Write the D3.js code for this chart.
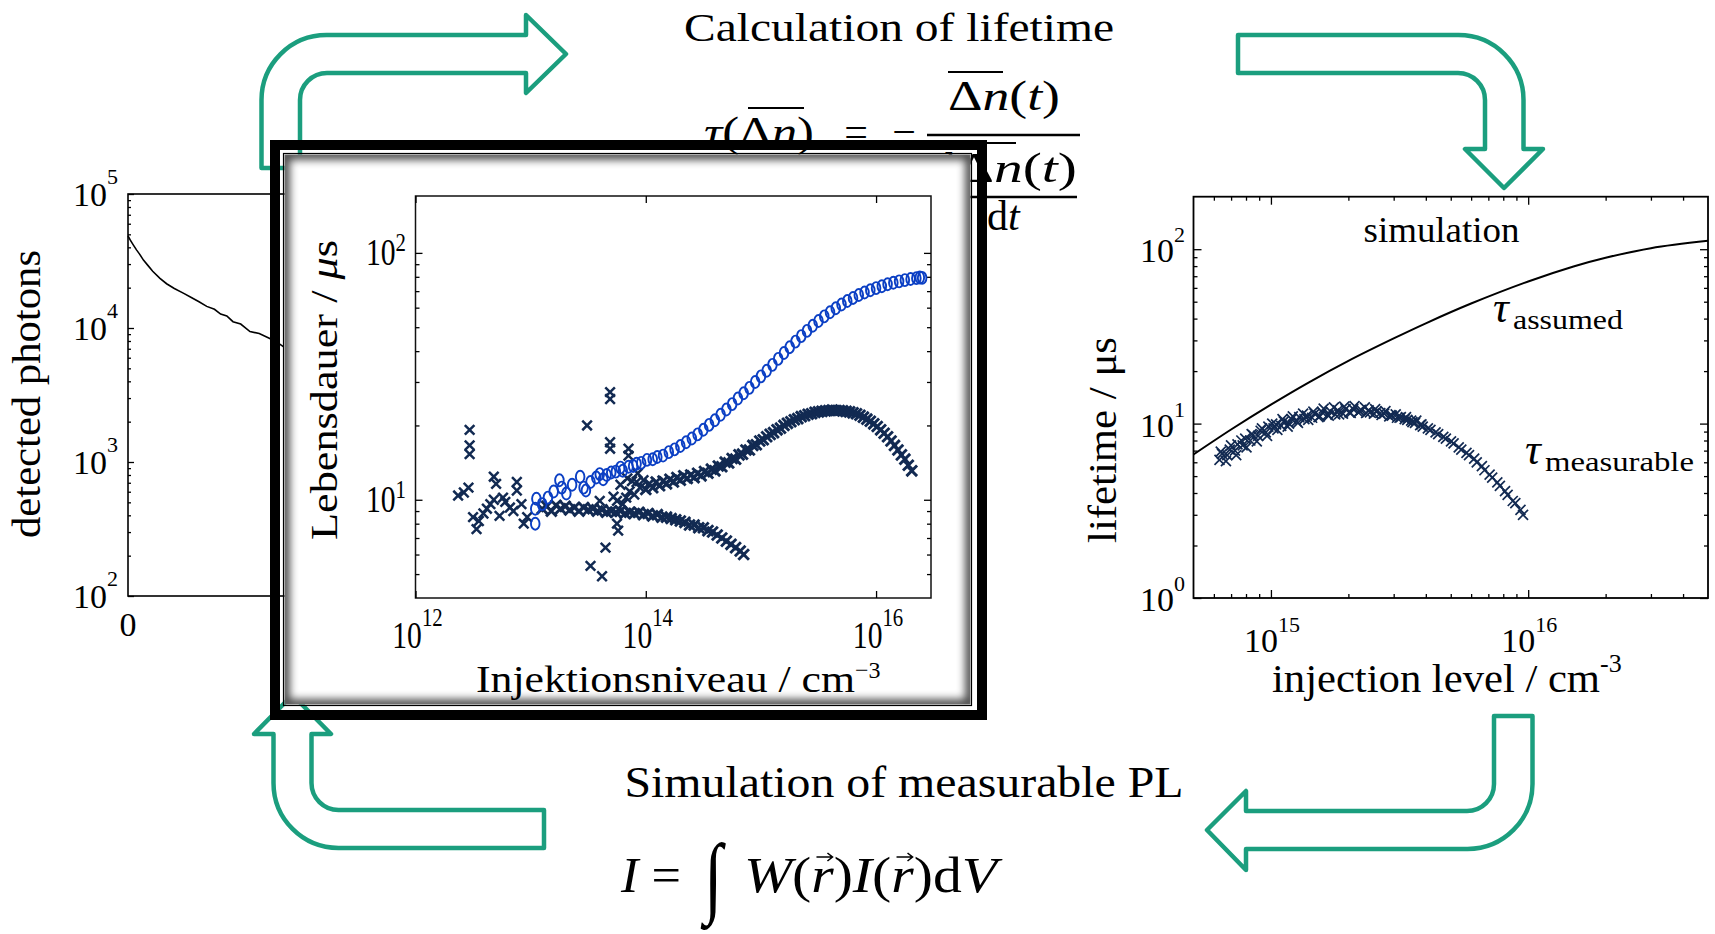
<!DOCTYPE html>
<html>
<head>
<meta charset="utf-8">
<script src="https://cdn.jsdelivr.net/npm/d3@7"></script>
<style>
  body { margin: 0; background: #fff; }
  svg { display: block; }
  text { font-family: "Liberation Serif", "Times New Roman", serif; fill: #000; }
</style>
</head>
<body>
<svg id="fig" width="1715" height="934"></svg>
<script>
// ---------- data ----------

// left panel: PL decay, time in µs vs detected photons
const decayTime = [0, 0.15, 0.34, 0.55, 0.75, 1.0, 1.3, 1.6, 2.07, 2.5, 3.0, 3.58, 4.1, 4.6, 5.1, 5.6, 6.0, 6.4, 6.8, 7.3, 7.9, 8.5, 9.15, 9.6, 10.06];
const decayCounts = [48600, 45200, 41700, 38300, 35600, 32100, 29200, 26500, 23500, 21400, 19700, 18200, 16900, 15700, 14500, 13800, 12700, 12300, 11150, 10700, 9400, 9100, 8380, 7900, 7250];
const leftYTicks = [1e2, 1e3, 1e4, 1e5];

// middle panel: injection level given as power of ten, lifetime in µs
const midXTicks = [12, 14, 16];
const midYTicks = [1, 2];
const circlePts = [
  [13.04, 8.0], [13.04, 9.2], [13.05, 10.1], [13.10, 9.6], [13.15, 10.2], [13.20, 10.8], [13.25, 12.0], [13.27, 11.2],
  [13.31, 10.6], [13.36, 11.5], [13.43, 12.4], [13.46, 11.2], [13.48, 10.9], [13.52, 11.8], [13.57, 12.3], [13.60, 12.7],
  [13.63, 12.1], [13.66, 12.6], [13.70, 12.9], [13.74, 13.0], [13.78, 13.5], [13.80, 13.1], [13.85, 13.6], [13.89, 13.7],
  [13.92, 14.0], [13.96, 14.1], [14.01, 14.5], [14.06, 14.6], [14.10, 14.9], [14.15, 15.1], [14.20, 15.6], [14.25, 16.0],
  [14.30, 16.5], [14.35, 17.1], [14.40, 17.7], [14.45, 18.4], [14.50, 19.2], [14.55, 20.1], [14.60, 21.0], [14.65, 22.1],
  [14.70, 23.2], [14.75, 24.4], [14.80, 25.7], [14.85, 27.0], [14.90, 28.4], [14.95, 30.0], [15.00, 31.6], [15.05, 33.3],
  [15.10, 35.2], [15.15, 37.2], [15.20, 39.3], [15.25, 41.5], [15.30, 43.7], [15.35, 46.0], [15.40, 48.3], [15.45, 50.7],
  [15.50, 53.0], [15.55, 55.3], [15.60, 57.5], [15.65, 59.7], [15.70, 61.8], [15.75, 63.8], [15.80, 65.7], [15.85, 67.5],
  [15.90, 69.1], [15.95, 70.6], [16.00, 72.0], [16.05, 73.3], [16.10, 74.6], [16.15, 75.7], [16.20, 76.7], [16.25, 77.6],
  [16.30, 78.4], [16.35, 79.0], [16.38, 79.5], [16.40, 79.2]
];
const crossUpperPts = [
  [14.00, 11.0], [14.03, 11.6], [14.06, 11.2], [14.09, 11.8], [14.12, 11.4], [14.15, 11.9], [14.18, 11.6], [14.21, 12.1],
  [14.24, 11.8], [14.27, 12.3], [14.30, 12.0], [14.33, 12.5], [14.36, 12.2], [14.39, 12.6], [14.42, 12.3], [14.45, 12.8],
  [14.48, 12.5], [14.51, 13.0], [14.54, 12.8], [14.57, 13.3], [14.60, 13.1], [14.63, 13.7], [14.66, 13.6], [14.69, 14.2],
  [14.72, 14.1], [14.75, 14.7], [14.78, 14.6], [14.81, 15.2], [14.84, 15.3], [14.87, 15.9], [14.90, 15.9], [14.93, 16.6],
  [14.96, 16.7], [14.99, 17.3], [15.02, 17.5], [15.05, 18.0], [15.08, 18.4], [15.11, 18.7], [15.14, 19.2], [15.17, 19.5],
  [15.20, 20.0], [15.23, 20.4], [15.26, 20.7], [15.29, 21.1], [15.32, 21.3], [15.35, 21.7], [15.38, 21.9], [15.41, 22.2],
  [15.44, 22.3], [15.47, 22.6], [15.50, 22.7], [15.53, 22.8], [15.56, 22.9], [15.59, 23.0], [15.62, 23.1], [15.65, 23.0],
  [15.68, 23.0], [15.71, 22.9], [15.74, 22.8], [15.77, 22.7], [15.80, 22.5], [15.83, 22.3], [15.86, 22.0], [15.89, 21.6],
  [15.92, 21.2], [15.95, 20.8], [15.98, 20.3], [16.01, 19.8], [16.04, 19.2], [16.07, 18.6], [16.10, 18.0], [16.13, 17.3],
  [16.16, 16.6], [16.19, 15.9], [16.22, 15.2], [16.25, 14.6], [16.28, 13.8], [16.31, 13.1]
];
const crossLowerPts = [
  [13.10, 9.2], [13.14, 9.4], [13.18, 9.0], [13.22, 9.5], [13.26, 9.2], [13.30, 9.4], [13.34, 9.1], [13.38, 9.3],
  [13.42, 9.0], [13.46, 9.3], [13.50, 9.1], [13.54, 9.2], [13.58, 9.0], [13.62, 9.1], [13.66, 8.9], [13.70, 9.0],
  [13.74, 8.9], [13.78, 9.0], [13.82, 8.8], [13.86, 8.9], [13.90, 8.8], [13.94, 8.9], [13.98, 8.7], [14.02, 8.8],
  [14.06, 8.6], [14.10, 8.7], [14.14, 8.5], [14.18, 8.5], [14.22, 8.4], [14.26, 8.3], [14.30, 8.2], [14.34, 8.1],
  [14.38, 7.9], [14.42, 7.9], [14.46, 7.7], [14.50, 7.7], [14.54, 7.5], [14.58, 7.4], [14.62, 7.2], [14.66, 7.0],
  [14.70, 6.8], [14.74, 6.6], [14.78, 6.4], [14.82, 6.2], [14.85, 6.0]
];
const crossScatterPts = [
  [12.37, 10.4], [12.42, 10.7], [12.46, 11.2], [12.47, 15.3], [12.47, 16.6], [12.47, 19.2], [12.50, 8.5], [12.53, 7.6],
  [12.55, 8.2], [12.59, 8.8], [12.62, 9.2], [12.65, 9.6], [12.68, 12.4], [12.68, 10.0], [12.70, 11.6], [12.73, 8.6],
  [12.76, 10.2], [12.78, 9.8], [12.82, 9.3], [12.85, 9.0], [12.88, 11.8], [12.88, 10.9], [12.92, 9.6], [12.94, 8.0],
  [12.97, 8.5], [13.49, 20.0], [13.52, 5.4], [13.60, 9.9], [13.62, 4.9], [13.65, 6.4], [13.69, 27.3], [13.69, 25.6],
  [13.69, 17.1], [13.69, 16.1], [13.72, 10.3], [13.75, 8.0], [13.75, 9.9], [13.76, 7.5], [13.78, 11.5], [13.80, 9.6],
  [13.83, 10.2], [13.84, 12.2], [13.85, 16.1], [13.85, 15.1], [13.86, 10.8], [13.88, 11.9], [13.90, 10.5], [13.92, 11.8],
  [13.93, 12.8], [13.95, 11.2], [13.98, 12.0]
];

// right panel: injection level / cm^-3 vs lifetime / µs
const rightXTicks = [1e15, 1e16];
const rightYTicks = [1e0, 1e1, 1e2];
const simLevel = [5e14, 7e14, 1e15, 1.4e15, 2e15, 3e15, 4e15, 6e15, 1e16, 1.5e16, 2e16, 3e16, 5e16];
const simTau = [6.65, 9.25, 12.85, 17.2, 22.9, 30.8, 37.6, 48.8, 65.3, 79.6, 89.3, 101.4, 111.7];
const measPts = [
  [14.80, 6.2], [14.81, 6.7], [14.83, 6.6], [14.84, 7.1], [14.86, 7.0], [14.87, 7.6], [14.89, 7.5], [14.90, 8.2],
  [14.92, 8.0], [14.93, 8.6], [14.95, 8.5], [14.96, 9.1], [14.98, 8.9], [14.99, 9.6], [15.01, 9.4], [15.02, 9.9],
  [15.04, 9.7], [15.05, 10.3], [15.07, 10.0], [15.08, 10.6], [15.10, 10.3], [15.11, 10.9], [15.13, 10.6], [15.14, 11.1],
  [15.16, 10.8], [15.17, 11.4], [15.19, 11.0], [15.20, 11.6], [15.22, 11.2], [15.23, 11.8], [15.25, 11.3], [15.26, 11.9],
  [15.28, 11.4], [15.29, 12.1], [15.31, 11.5], [15.32, 12.1], [15.34, 11.6], [15.35, 12.0], [15.37, 11.5], [15.38, 11.9],
  [15.40, 11.4], [15.41, 11.7], [15.43, 11.2], [15.44, 11.4], [15.46, 11.0], [15.47, 11.1], [15.49, 10.8], [15.50, 10.8],
  [15.52, 10.6], [15.53, 10.5], [15.55, 10.2], [15.56, 10.1], [15.58, 9.8], [15.59, 9.6], [15.61, 9.4], [15.62, 9.2],
  [15.64, 8.9], [15.65, 8.7], [15.67, 8.4], [15.68, 8.2], [15.70, 7.9], [15.71, 7.7], [15.73, 7.3], [15.74, 7.1],
  [15.76, 6.8], [15.77, 6.6], [15.79, 6.3], [15.80, 6.0], [15.82, 5.7], [15.83, 5.4], [15.85, 5.1], [15.86, 4.9],
  [15.88, 4.6], [15.89, 4.4], [15.91, 4.1], [15.92, 3.9], [15.94, 3.6], [15.95, 3.5], [15.97, 3.2], [15.98, 3.0],
  [14.805, 6.9], [14.825, 6.1], [14.845, 7.5], [14.865, 6.6], [14.885, 8.0], [14.905, 7.3], [14.925, 8.7], [14.945, 7.9],
  [14.965, 9.4], [14.985, 8.5], [15.005, 10.0], [15.025, 9.2], [15.045, 10.6], [15.065, 9.6], [15.085, 11.0], [15.105, 10.1],
  [15.125, 11.4], [15.145, 10.5], [15.165, 11.7], [15.185, 10.9], [15.205, 12.2], [15.225, 11.1], [15.245, 12.4], [15.265, 11.3],
  [15.285, 12.5], [15.305, 11.6], [15.325, 12.6], [15.345, 11.8], [15.365, 12.4], [15.385, 11.6], [15.405, 12.1], [15.425, 11.5],
  [15.445, 11.8], [15.465, 11.2], [15.485, 11.3], [15.505, 10.9], [15.525, 10.9], [15.545, 10.4], [15.565, 10.4], [15.585, 9.9]
];

// ---------- helpers ----------
const svg = d3.select("#fig");
const teal = "#1b9e7e";
const navy = "#122a52";
const blue = "#0b3fc4";

function minorTicks(lo, hi) {
  const out = [];
  for (let e = Math.floor(Math.log10(lo)); e <= Math.ceil(Math.log10(hi)); e++)
    for (let m = 2; m <= 9; m++) {
      const v = m * 10 ** e;
      if (v > lo && v < hi) out.push(v);
    }
  return out;
}

function tickSet(g, axisFn, scale, values, size, transform) {
  g.append("g")
    .attr("transform", transform)
    .call(axisFn(scale).tickValues(values).tickSize(size).tickFormat(""))
    .call(a => a.select(".domain").remove())
    .call(a => a.selectAll("line").attr("stroke", "#000").attr("stroke-width", 1.3));
}

function powLabel(g, x, y, exp, o) {
  const t = g.append("text")
    .attr("transform", `translate(${x},${y}) scale(${o.sx || 1},1)`)
    .attr("text-anchor", o.anchor)
    .attr("font-size", o.fs);
  t.append("tspan").text("10");
  t.append("tspan").attr("dy", o.dy).attr("font-size", o.sfs).text(exp);
}

const crossPath = s => `M${-s},${-s}L${s},${s}M${-s},${s}L${s},${-s}`;

// ---------- left panel (partly hidden) ----------
const leftG = svg.append("g");
const lx = d3.scaleLinear().domain([0, 50]).range([128, 900]);
const ly = d3.scaleLog().domain([1e2, 1e5]).range([596, 194]);
leftG.append("rect").attr("x", 128).attr("y", 194).attr("width", 700).attr("height", 402)
  .attr("fill", "none").attr("stroke", "#000").attr("stroke-width", 1.6);
tickSet(leftG, d3.axisLeft, ly, leftYTicks, -6, "translate(128,0)");
tickSet(leftG, d3.axisLeft, ly, minorTicks(1e2, 1e5), -3, "translate(128,0)");
leftG.append("path")
  .datum(decayTime.map((t, i) => [t, decayCounts[i]]))
  .attr("fill", "none").attr("stroke", "#000").attr("stroke-width", 1.6)
  .attr("d", d3.line().x(d => lx(d[0])).y(d => ly(d[1])));
leftYTicks.forEach(v => powLabel(leftG, 118, ly(v) + 12, Math.log10(v), { anchor: "end", fs: 34, sfs: 22, dy: -22 }));
leftG.append("text").attr("x", lx(0)).attr("y", 636).attr("text-anchor", "middle").attr("font-size", 34).text("0");
leftG.append("text").attr("transform", "translate(40,394) rotate(-90)").attr("text-anchor", "middle")
  .attr("font-size", 41).attr("textLength", 288).attr("lengthAdjust", "spacingAndGlyphs").text("detected photons");

// ---------- top: calculation of lifetime ----------
const topG = svg.append("g");
topG.append("text").attr("x", 684).attr("y", 41).attr("font-size", 40)
  .attr("textLength", 430).attr("lengthAdjust", "spacingAndGlyphs").text("Calculation of lifetime");
const f1 = topG.append("text").attr("x", 704).attr("y", 146).attr("font-size", 42)
  .attr("textLength", 110).attr("lengthAdjust", "spacingAndGlyphs");
f1.append("tspan").attr("font-style", "italic").text("τ");
f1.append("tspan").text("(Δ");
f1.append("tspan").attr("font-style", "italic").text("n");
f1.append("tspan").text(")");
topG.append("text").attr("x", 856).attr("y", 146).attr("text-anchor", "middle").attr("font-size", 42).text("=");
topG.append("text").attr("x", 904).attr("y", 146).attr("text-anchor", "middle").attr("font-size", 42).text("−");
const f2 = topG.append("text").attr("x", 948).attr("y", 110).attr("font-size", 42)
  .attr("textLength", 112).attr("lengthAdjust", "spacingAndGlyphs");
f2.append("tspan").text("Δ");
f2.append("tspan").attr("font-style", "italic").text("n");
f2.append("tspan").text("(");
f2.append("tspan").attr("font-style", "italic").text("t");
f2.append("tspan").text(")");
topG.append("text").attr("x", 955).attr("y", 182).attr("font-size", 42).attr("text-anchor", "end").text("d");
const f3 = topG.append("text").attr("x", 957).attr("y", 182).attr("font-size", 42)
  .attr("textLength", 120).attr("lengthAdjust", "spacingAndGlyphs");
f3.append("tspan").text("Δ");
f3.append("tspan").attr("font-style", "italic").text("n");
f3.append("tspan").text("(");
f3.append("tspan").attr("font-style", "italic").text("t");
f3.append("tspan").text(")");
const f4 = topG.append("text").attr("x", 987).attr("y", 230).attr("font-size", 42);
f4.append("tspan").text("d");
f4.append("tspan").attr("font-style", "italic").text("t");
[[748, 804, 108], [948, 1003, 72], [957, 1016, 143]].forEach(([a, b, y]) =>
  topG.append("line").attr("x1", a).attr("x2", b).attr("y1", y).attr("y2", y).attr("stroke", "#000").attr("stroke-width", 2.2));
[[927, 1080, 135], [935, 1077, 197]].forEach(([a, b, y]) =>
  topG.append("line").attr("x1", a).attr("x2", b).attr("y1", y).attr("y2", y).attr("stroke", "#000").attr("stroke-width", 2.6));

// ---------- arrows ----------
const arrows = [
  "M261.5,168 L261.5,100 A65,65 0 0 1 326.5,35 L526,35 L526,15 L566,54 L526,93 L526,73 L327,73 A27,27 0 0 0 300,100 L300,168 Z",
  "M1238,35 L1458.5,35 A65,65 0 0 1 1523.5,100 L1523.5,149 L1543,149 L1504,188 L1465,149 L1485,149 L1485,100 A27,27 0 0 0 1458,73 L1238,73 Z",
  "M1494,716 L1532.5,716 L1532.5,784 A65,65 0 0 1 1467.5,849 L1246,849 L1246,870 L1207,830 L1246,791 L1246,811 L1467,811 A27,27 0 0 0 1494,784 Z",
  "M544,810 L544,848 L338.5,848 A65,65 0 0 1 273.5,783 L273.5,734 L254,734 L292.5,695 L331,734 L311.5,734 L311.5,783 A27,27 0 0 0 338.5,810 Z"
];
svg.append("g").selectAll("path").data(arrows).join("path")
  .attr("d", d => d).attr("fill", "none").attr("stroke", teal)
  .attr("stroke-width", 4.5).attr("stroke-linejoin", "round");

// ---------- framed middle panel ----------
const defs = svg.append("defs");
defs.append("filter").attr("id", "soft").attr("x", "-5%").attr("y", "-5%").attr("width", "110%").attr("height", "110%")
  .append("feGaussianBlur").attr("stdDeviation", 4);
defs.append("clipPath").attr("id", "panelClip")
  .append("rect").attr("x", 284.5).attr("y", 154.5).attr("width", 686).attr("height", 550);
svg.append("rect").attr("x", 275).attr("y", 145).attr("width", 707).attr("height", 570)
  .attr("fill", "none").attr("stroke", "#000").attr("stroke-width", 10);
svg.append("rect").attr("x", 283.5).attr("y", 153.5).attr("width", 688).attr("height", 552)
  .attr("fill", "none").attr("stroke", "#000").attr("stroke-width", 1.2);
svg.append("rect").attr("x", 284.5).attr("y", 154.5).attr("width", 686).attr("height", 550).attr("fill", "#fff");
svg.append("rect").attr("x", 284.5).attr("y", 154.5).attr("width", 686).attr("height", 550)
  .attr("fill", "none").attr("stroke", "#000").attr("stroke-width", 10).attr("opacity", 0.75)
  .attr("filter", "url(#soft)").attr("clip-path", "url(#panelClip)");

const midG = svg.append("g");
const mx = d3.scaleLog().domain([1e12, 3e16]).range([415.5, 931]);
const my = d3.scaleLog().domain([4, 170]).range([598, 196]);
const mxe = e => mx(10 ** e);
midG.append("rect").attr("x", 415.5).attr("y", 196).attr("width", 515.5).attr("height", 402)
  .attr("fill", "none").attr("stroke", "#111").attr("stroke-width", 1.5);
const midMajorX = midXTicks.map(e => 10 ** e);
const midMajorY = midYTicks.map(e => 10 ** e);
tickSet(midG, d3.axisBottom, mx, midMajorX, -7, "translate(0,598)");
tickSet(midG, d3.axisTop, mx, midMajorX, -7, "translate(0,196)");
tickSet(midG, d3.axisLeft, my, midMajorY, -7, "translate(415.5,0)");
tickSet(midG, d3.axisRight, my, midMajorY, -7, "translate(931,0)");
tickSet(midG, d3.axisLeft, my, minorTicks(4, 170), -4, "translate(415.5,0)");
tickSet(midG, d3.axisRight, my, minorTicks(4, 170), -4, "translate(931,0)");

midG.append("g").selectAll("path").data(crossScatterPts).join("path")
  .attr("transform", d => `translate(${mxe(d[0])},${my(d[1])})`)
  .attr("d", crossPath(4.8)).attr("stroke", navy).attr("stroke-width", 2.5).attr("fill", "none");
midG.append("g").selectAll("path").data(crossLowerPts.concat(crossUpperPts)).join("path")
  .attr("transform", d => `translate(${mxe(d[0])},${my(d[1])})`)
  .attr("d", crossPath(5.3)).attr("stroke", navy).attr("stroke-width", 2.9).attr("fill", "none");
midG.append("g").selectAll("ellipse").data(circlePts).join("ellipse")
  .attr("cx", d => mxe(d[0])).attr("cy", d => my(d[1])).attr("rx", 4.3).attr("ry", 6)
  .attr("fill", "none").attr("stroke", blue).attr("stroke-width", 1.9);

midYTicks.forEach(e => powLabel(midG, 406, my(10 ** e) + 12, e, { anchor: "end", fs: 37, sfs: 26, dy: -14, sx: 0.8 }));
midXTicks.forEach(e => powLabel(midG, mxe(e) + 2, 648, e, { anchor: "middle", fs: 37, sfs: 26, dy: -22, sx: 0.8 }));
const mxl = midG.append("text").attr("x", 476).attr("y", 692).attr("font-size", 38);
mxl.append("tspan").attr("textLength", 379).attr("lengthAdjust", "spacingAndGlyphs").text("Injektionsniveau / cm");
mxl.append("tspan").attr("dy", -14).attr("font-size", 24).text("−3");
const myl = midG.append("text").attr("transform", "translate(337,390) rotate(-90)").attr("text-anchor", "middle")
  .attr("font-size", 38).attr("textLength", 300).attr("lengthAdjust", "spacingAndGlyphs");
myl.append("tspan").text("Lebensdauer / ");
myl.append("tspan").attr("font-style", "italic").text("μ");
myl.append("tspan").text("s");

// ---------- right panel ----------
const rightG = svg.append("g");
const rx = d3.scaleLog().domain([5e14, 5e16]).range([1193.5, 1708]);
const ry = d3.scaleLog().domain([1, 200]).range([598, 196.7]);
rightG.append("rect").attr("x", 1193.5).attr("y", 196.7).attr("width", 514.5).attr("height", 401.3)
  .attr("fill", "none").attr("stroke", "#000").attr("stroke-width", 1.8);
tickSet(rightG, d3.axisBottom, rx, rightXTicks, -8, "translate(0,598)");
tickSet(rightG, d3.axisTop, rx, rightXTicks, -8, "translate(0,196.7)");
tickSet(rightG, d3.axisBottom, rx, minorTicks(5e14, 5e16), -4, "translate(0,598)");
tickSet(rightG, d3.axisTop, rx, minorTicks(5e14, 5e16), -4, "translate(0,196.7)");
tickSet(rightG, d3.axisLeft, ry, rightYTicks, -8, "translate(1193.5,0)");
tickSet(rightG, d3.axisRight, ry, rightYTicks, -8, "translate(1708,0)");
tickSet(rightG, d3.axisLeft, ry, minorTicks(1, 200), -4, "translate(1193.5,0)");
tickSet(rightG, d3.axisRight, ry, minorTicks(1, 200), -4, "translate(1708,0)");

rightG.append("path")
  .datum(simLevel.map((v, i) => [v, simTau[i]]))
  .attr("fill", "none").attr("stroke", "#000").attr("stroke-width", 2)
  .attr("d", d3.line().curve(d3.curveCatmullRom.alpha(0.5)).x(d => rx(d[0])).y(d => ry(d[1])));
rightG.append("g").selectAll("path").data(measPts).join("path")
  .attr("transform", d => `translate(${rx(10 ** d[0])},${ry(d[1])})`)
  .attr("d", crossPath(5)).attr("stroke", navy).attr("stroke-width", 1.7).attr("fill", "none");

rightYTicks.forEach(v => powLabel(rightG, 1185, ry(v) + 13, Math.log10(v), { anchor: "end", fs: 34, sfs: 22, dy: -20 }));
rightXTicks.forEach(v => powLabel(rightG, rx(v) + 1, 652, Math.log10(v), { anchor: "middle", fs: 34, sfs: 22, dy: -20 }));
rightG.append("text").attr("x", 1363.5).attr("y", 242).attr("font-size", 36)
  .attr("textLength", 156).attr("lengthAdjust", "spacingAndGlyphs").text("simulation");
rightG.append("text").attr("x", 1493).attr("y", 322).attr("font-size", 44).attr("font-style", "italic").text("τ");
rightG.append("text").attr("x", 1513).attr("y", 329).attr("font-size", 28)
  .attr("textLength", 110).attr("lengthAdjust", "spacingAndGlyphs").text("assumed");
rightG.append("text").attr("x", 1525).attr("y", 464).attr("font-size", 44).attr("font-style", "italic").text("τ");
rightG.append("text").attr("x", 1545).attr("y", 471).attr("font-size", 28)
  .attr("textLength", 149).attr("lengthAdjust", "spacingAndGlyphs").text("measurable");
const rxl = rightG.append("text").attr("x", 1272).attr("y", 692).attr("font-size", 40);
rxl.append("tspan").attr("textLength", 328).attr("lengthAdjust", "spacingAndGlyphs").text("injection level / cm");
rxl.append("tspan").attr("dy", -20).attr("font-size", 26).text("-3");
rightG.append("text").attr("transform", "translate(1116,440) rotate(-90)").attr("text-anchor", "middle")
  .attr("font-size", 41).attr("textLength", 206).attr("lengthAdjust", "spacingAndGlyphs").text("lifetime / μs");

// ---------- bottom: simulation of measurable PL ----------
const bottomG = svg.append("g");
bottomG.append("text").attr("x", 624.5).attr("y", 797).attr("font-size", 44)
  .attr("textLength", 559).attr("lengthAdjust", "spacingAndGlyphs").text("Simulation of measurable PL");

const eqLeft = bottomG.append("text").attr("x", 621).attr("y", 892).attr("font-size", 50)
  .attr("textLength", 60).attr("lengthAdjust", "spacingAndGlyphs");
eqLeft.append("tspan").attr("font-style", "italic").text("I");
eqLeft.append("tspan").text(" =");

const eqParts = [["W", 1], ["(", 0], ["r", 1], [")", 0], ["I", 1], ["(", 0], ["r", 1], [")", 0], ["d", 0], ["V", 1]];
const eqRight = bottomG.append("text").attr("x", 744).attr("y", 892).attr("font-size", 50)
  .attr("textLength", 253).attr("lengthAdjust", "spacingAndGlyphs");
eqParts.forEach(([s, it]) => eqRight.append("tspan").attr("font-style", it ? "italic" : null).text(s));
// vector arrows over both r
[2, 6].forEach(ci => {
  const ext = eqRight.node().getExtentOfChar(ci);
  const cx = ext.x + ext.width / 2 + 2;
  bottomG.append("path").attr("d", `M${cx - 8},857 h16 m-5,-4 l5,4 l-5,4`)
    .attr("fill", "none").attr("stroke", "#000").attr("stroke-width", 1.6);
});
// integral sign stretched to its box
const integ = bottomG.append("text").attr("font-size", 100).attr("font-style", "italic").text("∫");
const ib = integ.node().getBBox();
const gx = 26 / ib.width, gy = 104 / ib.height;
integ.attr("transform", `translate(${700 - ib.x * gx},${826 - ib.y * gy}) scale(${gx},${gy})`);
</script>
</body>
</html>
